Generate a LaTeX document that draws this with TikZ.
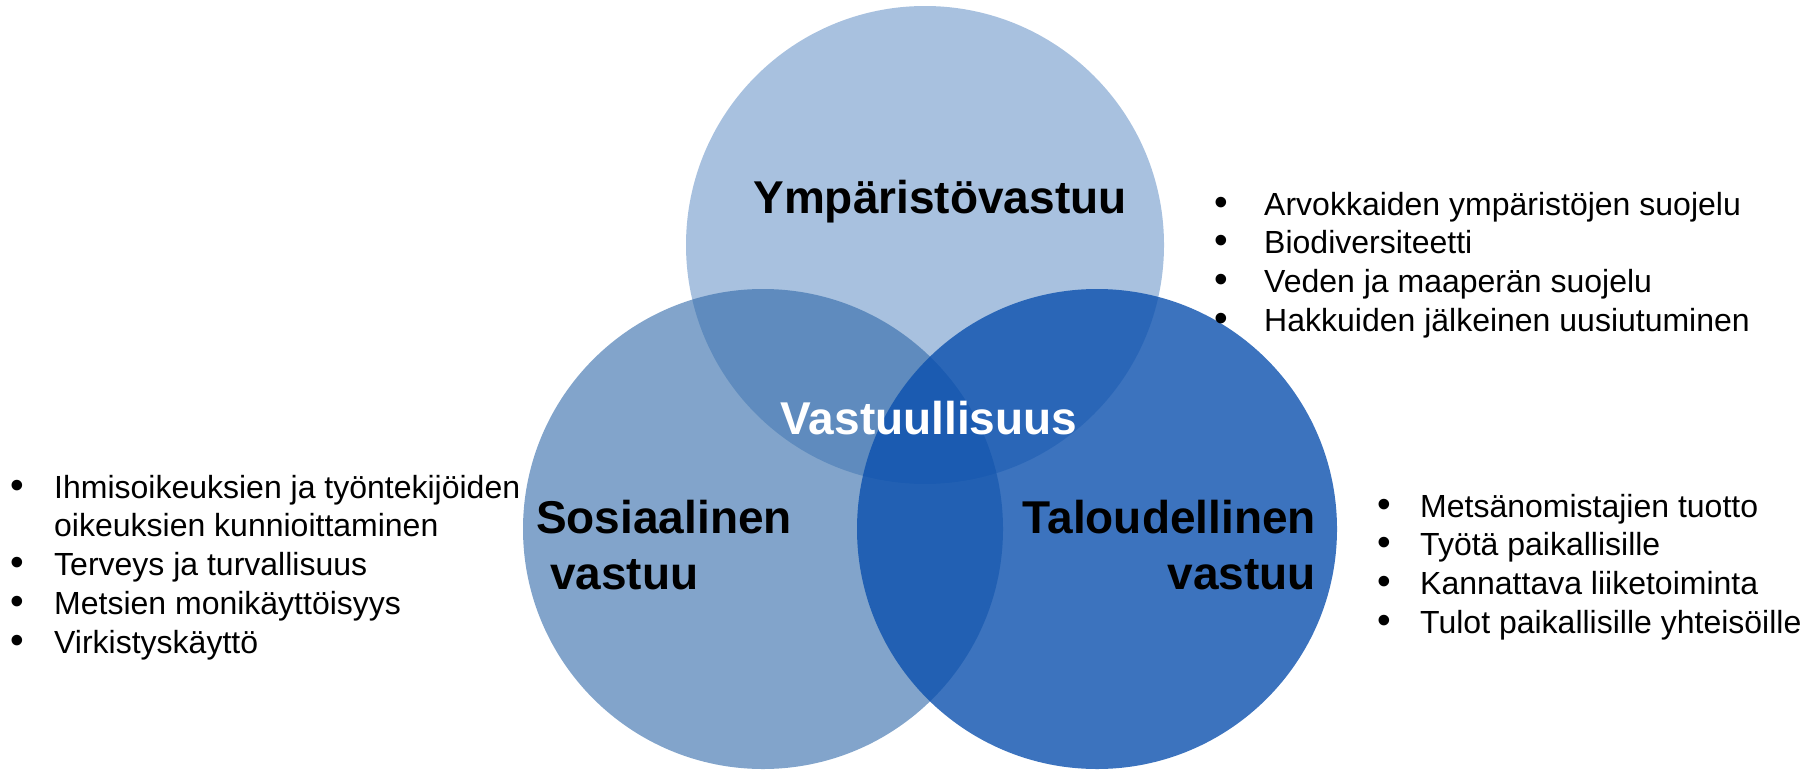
\documentclass[tikz,border=0pt]{standalone}
\usepackage{fontspec}
\setmainfont{Liberation Sans}
\definecolor{topc}{RGB}{168,193,223}
\definecolor{leftc}{RGB}{47,104,168}
\definecolor{rightc}{RGB}{11,80,174}
\begin{document}
\begin{tikzpicture}[x=1pt,y=-1pt,
  head/.style={inner sep=0, font=\fontsize{46}{55}\selectfont\bfseries},
  bul/.style={anchor=base, inner sep=0, font=\fontsize{39}{38.8}\selectfont},
  item/.style={anchor=base west, inner sep=0, font=\fontsize{32}{38.8}\selectfont}]
\useasboundingbox (0,0) rectangle (1814,771);
% circles
\fill[topc] (925,245) circle (239pt);
\fill[leftc, fill opacity=0.6] (763,529) circle (240pt);
\fill[rightc, fill opacity=0.8] (1097,529) circle (240pt);
% headings
\node[head, anchor=base] (ymp) at (940,213) {Ympäristövastuu};
\node[head, anchor=base, text=white] (vast) at (929,434) {Vastuullisuus};
\node[head, anchor=base west] (sos1) at (536,533) {Sosiaalinen};
\node[head, anchor=base west] (sos2) at (550,589) {vastuu};
\node[head, anchor=base east] (tal1) at (1316,533) {Taloudellinen};
\node[head, anchor=base east] (tal2) at (1316,589) {vastuu};
% top-right list
\foreach \t [count=\i] in {Arvokkaiden ympäristöjen suojelu, Biodiversiteetti, Veden ja maaperän suojelu, Hakkuiden jälkeinen uusiutuminen}{
  \node[bul] (trb\i) at (1221,{215+38.8*(\i-1)}) {\textbullet};
  \node[item] (tr\i) at (1264,{215+38.8*(\i-1)}) {\t};
}
% right list
\foreach \t [count=\i] in {Metsänomistajien tuotto, Työtä paikallisille, Kannattava liiketoiminta, Tulot paikallisille yhteisöille}{
  \node[bul] (rb\i) at (1384,{517+38.8*(\i-1)}) {\textbullet};
  \node[item] (r\i) at (1420,{517+38.8*(\i-1)}) {\t};
}
% left list
\node[bul] (lb1) at (17,498) {\textbullet};
\node[item] (l1) at (54,498) {Ihmisoikeuksien ja työntekijöiden};
\node[item] (l1b) at (54,536.8) {oikeuksien kunnioittaminen};
\node[bul] (lb2) at (17,575.6) {\textbullet};
\node[item] (l2) at (54,575.6) {Terveys ja turvallisuus};
\node[bul] (lb3) at (17,614.4) {\textbullet};
\node[item] (l3) at (54,614.4) {Metsien monikäyttöisyys};
\node[bul] (lb4) at (17,653.2) {\textbullet};
\node[item] (l4) at (54,653.2) {Virkistyskäyttö};
\end{tikzpicture}
\end{document}
